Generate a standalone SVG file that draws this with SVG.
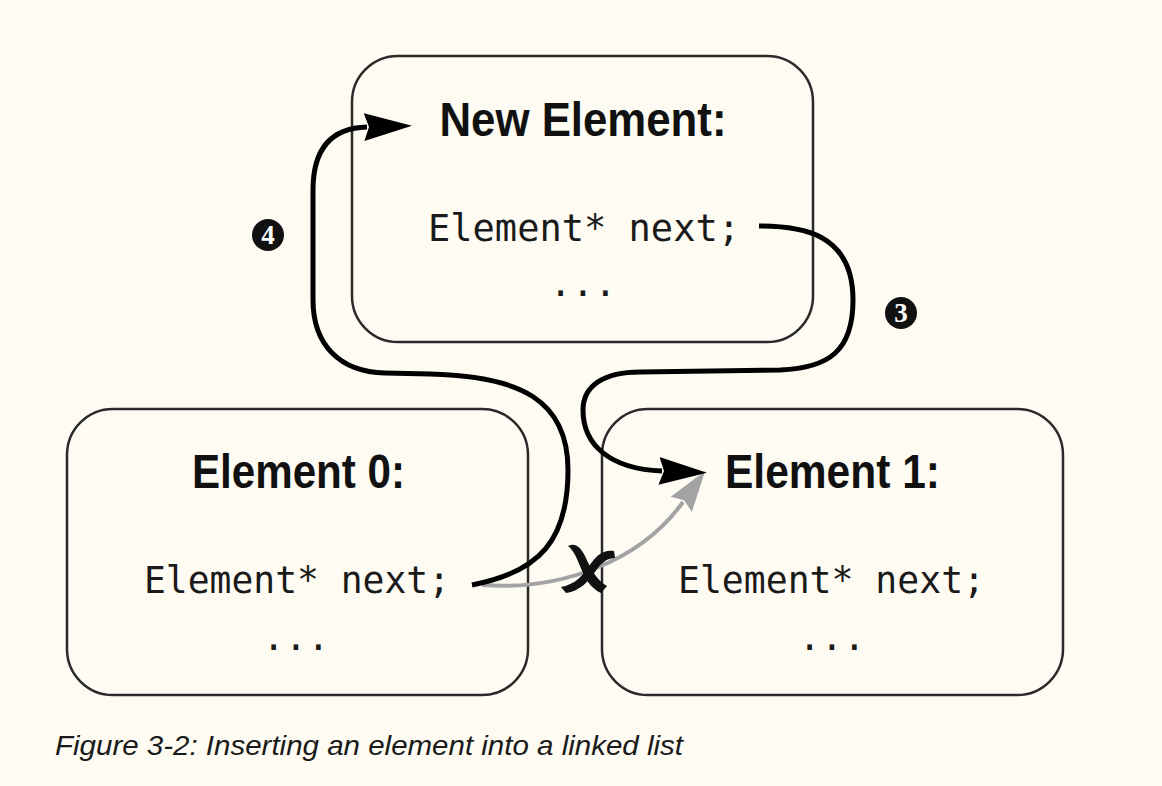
<svg xmlns="http://www.w3.org/2000/svg" width="1162" height="786" viewBox="0 0 1162 786">
<style>
.box{fill:#fdfbf2;stroke:#2a2a2a;stroke-width:2.5}
.title{font-family:"Liberation Sans",Arial,sans-serif;font-weight:bold;font-size:48px;fill:#111}
.code{font-family:"DejaVu Sans Mono","Liberation Mono",monospace;font-size:37px;fill:#1a1a1a}
.dots{font-family:"DejaVu Sans Mono","Liberation Mono",monospace;font-size:37px;fill:#1a1a1a}
.blk{fill:none;stroke:#000;stroke-width:5;stroke-linecap:butt}
.gry{fill:none;stroke:#a3a3a3;stroke-width:4}
.num{fill:#111}
.numt{font-family:"Liberation Serif","Times New Roman",serif;font-weight:bold;font-size:27px;fill:#fff}
.caption{font-family:"Liberation Sans",Arial,sans-serif;font-style:italic;font-size:28px;fill:#1a1a1a}
</style>
<defs>
<marker id="ahB" markerUnits="userSpaceOnUse" markerWidth="50" markerHeight="30" viewBox="0 0 50 30" refX="3" refY="15" orient="auto">
<path d="M0,1 L48,15 L0,29 L5,15 Z" fill="#000"/>
</marker>
<marker id="ahG" markerUnits="userSpaceOnUse" markerWidth="42" markerHeight="28" viewBox="0 0 42 28" refX="3" refY="14" orient="auto">
<path d="M0,1 L41,14 L0,27 L5,14 Z" fill="#a3a3a3"/>
</marker>
</defs>
<rect width="1162" height="786" fill="#fdfbf2"/>

<g id="new-element">
<rect class="box" x="352" y="56" width="461" height="286" rx="46" ry="46"/>
<text class="title" x="583" y="136" text-anchor="middle" textLength="287" lengthAdjust="spacingAndGlyphs">New Element:</text>
<text class="code" x="428" y="241" textLength="312" lengthAdjust="spacingAndGlyphs">Element* next;</text>
<text class="dots" x="583" y="296" text-anchor="middle">...</text>
</g>

<g id="element-0">
<rect class="box" x="67" y="409" width="461" height="286" rx="46" ry="46"/>
<text class="title" x="192" y="488" textLength="213" lengthAdjust="spacingAndGlyphs">Element 0:</text>
<text class="code" x="144" y="593" textLength="306" lengthAdjust="spacingAndGlyphs">Element* next;</text>
<text class="dots" x="296" y="650" text-anchor="middle">...</text>
</g>

<g id="element-1">
<rect class="box" x="602" y="409" width="461" height="286" rx="46" ry="46"/>
<text class="title" x="725" y="488" textLength="215" lengthAdjust="spacingAndGlyphs">Element 1:</text>
<text class="code" x="678" y="593" textLength="307" lengthAdjust="spacingAndGlyphs">Element* next;</text>
<text class="dots" x="832" y="650" text-anchor="middle">...</text>
</g>

<g id="connectors">
<path class="gry" marker-end="url(#ahG)" d="M482,585 C560,591 640,562 683,502"/>
<path class="blk" marker-end="url(#ahB)" d="M472,585 C540,572 568,540 568,470 C568,400 520,376 430,374 L385,373 C340,372 313,345 313,300 L313,190 C313,150 330,128 367,127"/>
<path class="blk" marker-end="url(#ahB)" d="M759,226 C800,226 853,232 853,300 C853,350 830,368 780,370 L640,372 C605,372 583,385 583,410 C583,445 610,469 662,471"/>
</g>

<g id="x-mark">
<path d="M568,546 C576,542 581,548 585,556 C590,567 596,580 607,586 L601,593 C590,588 585,578 580,566 C576,556 573,550 568,546 Z" fill="#111"/>
<path d="M614,551 C603,549 596,556 589,566 C582,576 576,584 561,587 L566,593 C580,591 589,581 595,572 C601,563 607,558 615,558 Z" fill="#111"/>
</g>

<g id="label-4">
<circle class="num" cx="268" cy="235" r="16"/>
<text class="numt" x="268" y="244" text-anchor="middle">4</text>
</g>
<g id="label-3">
<circle class="num" cx="901" cy="313" r="16"/>
<text class="numt" x="901" y="322" text-anchor="middle">3</text>
</g>

<text id="caption" class="caption" x="55" y="755" textLength="628" lengthAdjust="spacingAndGlyphs">Figure 3-2: Inserting an element into a linked list</text>
</svg>
